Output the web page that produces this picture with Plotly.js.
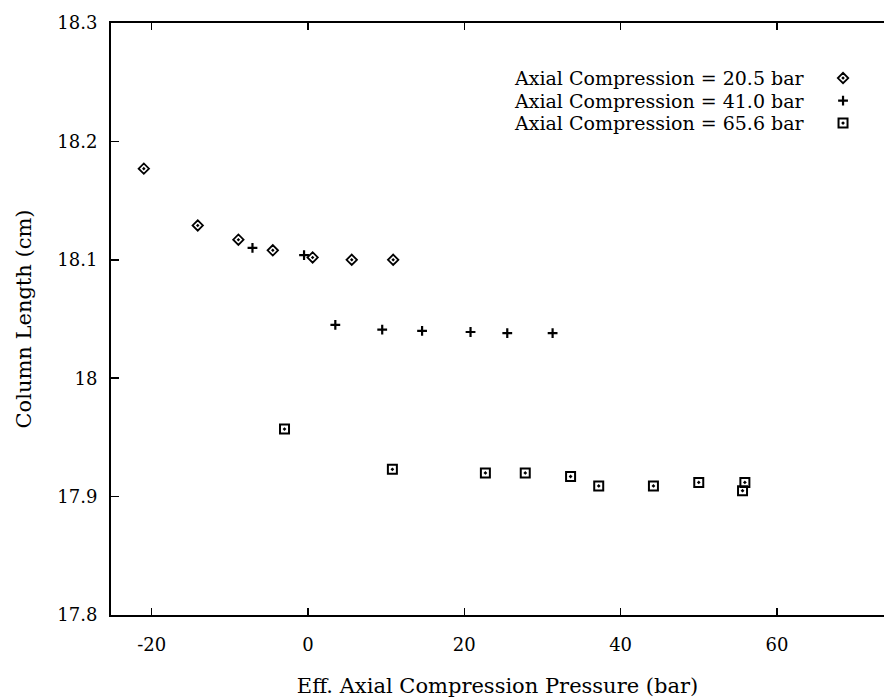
<!DOCTYPE html>
<html>
<head>
<meta charset="utf-8">
<script src="https://cdn.plot.ly/plotly-3.0.1.min.js"></script>
<style>
html,body{margin:0;padding:0;background:#fff;}
#chart{width:884px;height:698px;}
</style>
</head>
<body>
<div id="chart"></div>
<script>
// Series: Axial Compression = 20.5 bar (diamonds)
const x205 = [-21.0, -14.1, -8.9, -4.5, 0.6, 5.6, 10.9];
const y205 = [18.177, 18.129, 18.117, 18.108, 18.102, 18.100, 18.100];

// Series: Axial Compression = 41.0 bar (plus)
const x410 = [-7.1, -0.5, 3.5, 9.5, 14.6, 20.8, 25.5, 31.3];
const y410 = [18.110, 18.104, 18.045, 18.041, 18.040, 18.039, 18.038, 18.038];

// Series: Axial Compression = 65.6 bar (squares)
const x656 = [-3.0, 10.8, 22.7, 27.8, 33.6, 37.2, 44.2, 50.0, 55.9, 55.6];
const y656 = [17.957, 17.923, 17.920, 17.920, 17.917, 17.909, 17.909, 17.912, 17.912, 17.905];

const seriesNames = ["Axial Compression = 20.5 bar", "Axial Compression = 41.0 bar", "Axial Compression = 65.6 bar"];
const xTicks = [-20, 0, 20, 40, 60];
const yTicks = [17.8, 17.9, 18, 18.1, 18.2, 18.3];
const yTickText = ["17.8", "17.9", "18", "18.1", "18.2", "18.3"];

const FONT = "DejaVu Serif, serif";
const symbols = ["diamond-open-dot", "cross-thin-open", "square-open-dot"];
const sizes = [8, 7, 9];
const widths = [1.8, 2.2, 2];

const mk = (i) => ({symbol: symbols[i], size: sizes[i], color: "#000",
  line: {color: "#000", width: widths[i]}});

const traces = [
  {x: x205, y: y205, mode: "markers", type: "scatter", marker: mk(0), name: seriesNames[0], showlegend: false},
  {x: x410, y: y410, mode: "markers", type: "scatter", marker: mk(1), name: seriesNames[1], showlegend: false},
  {x: x656, y: y656, mode: "markers", type: "scatter", marker: mk(2), name: seriesNames[2], showlegend: false}
];

// legend keys on an overlay axis (0..1)
const keyX = 0.947, keyY = [0.907, 0.869, 0.831];
seriesNames.forEach((n, i) => {
  traces.push({x: [keyX], y: [keyY[i]], xaxis: "x2", yaxis: "y2", mode: "markers", type: "scatter",
    marker: mk(i), showlegend: false, hoverinfo: "skip"});
});

const annotations = seriesNames.map((n, i) => ({
  xref: "paper", yref: "paper", x: 0.899, y: keyY[i], xanchor: "right", yanchor: "middle",
  text: n, showarrow: false, borderpad: 0, font: {family: FONT, size: 19, color: "#000"}
}));

const layout = {
  width: 884, height: 698,
  margin: {l: 111, r: 0, t: 23, b: 83},
  paper_bgcolor: "#fff", plot_bgcolor: "#fff",
  showlegend: false,
  font: {family: FONT, color: "#000"},
  xaxis: {
    range: [-25.2, 73.7], tickvals: xTicks, ticktext: xTicks.map(String),
    showgrid: false, zeroline: false, showline: true, linecolor: "#000", linewidth: 2,
    mirror: "ticks", ticks: "inside", ticklen: 7, tickwidth: 1.5, tickcolor: "#000",
    tickfont: {family: FONT, size: 18}, ticklabelstandoff: 12,
    title: {text: "Eff. Axial Compression Pressure (bar)", font: {family: FONT, size: 21}, standoff: 26}
  },
  yaxis: {
    range: [17.8, 18.3], tickvals: yTicks, ticktext: yTickText,
    showgrid: false, zeroline: false, showline: true, linecolor: "#000", linewidth: 2,
    mirror: false, ticks: "inside", ticklen: 8, tickwidth: 1.5, tickcolor: "#000",
    tickfont: {family: FONT, size: 18}, ticklabelstandoff: 8,
    title: {text: "Column Length (cm)", font: {family: FONT, size: 21}, standoff: 20}
  },
  xaxis2: {overlaying: "x", range: [0, 1], visible: false, fixedrange: true},
  yaxis2: {overlaying: "y", range: [0, 1], visible: false, fixedrange: true},
  annotations: annotations
};

Plotly.newPlot("chart", traces, layout, {displayModeBar: false, staticPlot: true});
</script>
</body>
</html>
